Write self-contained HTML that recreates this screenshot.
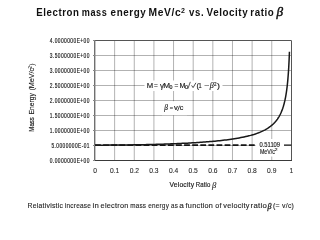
<!DOCTYPE html>
<html><head><meta charset="utf-8">
<style>
html,body{margin:0;padding:0;background:#fff;width:320px;height:240px;overflow:hidden;}
svg{display:block;filter:blur(0.35px);}
text{font-family:"Liberation Sans",sans-serif;}
.s{font-family:"Liberation Serif",serif;font-style:italic;}
</style></head>
<body>
<svg width="320" height="240" viewBox="0 0 320 240">
<rect width="320" height="240" fill="#fff"/>
<text x="36.36" y="15.8" font-size="10.6" textLength="43.07" lengthAdjust="spacingAndGlyphs" fill="#111" letter-spacing="0.6" font-weight="bold">Electron</text>
<text x="81.86" y="15.8" font-size="10.6" textLength="25.37" lengthAdjust="spacingAndGlyphs" fill="#111" letter-spacing="0.6" font-weight="bold">mass</text>
<text x="110.61" y="15.8" font-size="10.6" textLength="35.62" lengthAdjust="spacingAndGlyphs" fill="#111" letter-spacing="0.6" font-weight="bold">energy</text>
<text x="148.61" y="15.8" font-size="10.6" textLength="32.62" lengthAdjust="spacingAndGlyphs" fill="#111" letter-spacing="0.6" font-weight="bold">MeV/c</text>
<text x="189.11" y="15.8" font-size="10.6" textLength="15.02" lengthAdjust="spacingAndGlyphs" fill="#111" letter-spacing="0.6" font-weight="bold">vs.</text>
<text x="206.61" y="15.8" font-size="10.6" textLength="41.62" lengthAdjust="spacingAndGlyphs" fill="#111" letter-spacing="0.6" font-weight="bold">Velocity</text>
<text x="250.36" y="15.8" font-size="10.6" textLength="23.97" lengthAdjust="spacingAndGlyphs" fill="#111" letter-spacing="0.6" font-weight="bold">ratio</text>
<text x="180.9" y="12.6" font-size="7" font-weight="bold" fill="#111">2</text>
<text x="276.4" y="16.2" font-size="13.2" class="s" fill="#111" stroke="#111" stroke-width="0.45">β</text>
<g stroke="#000" stroke-opacity="0.3" stroke-width="1">
<line x1="114.64" y1="40.5" x2="114.64" y2="160.5"/>
<line x1="134.28" y1="40.5" x2="134.28" y2="160.5"/>
<line x1="153.92" y1="40.5" x2="153.92" y2="160.5"/>
<line x1="173.56" y1="40.5" x2="173.56" y2="160.5"/>
<line x1="193.20" y1="40.5" x2="193.20" y2="160.5"/>
<line x1="212.84" y1="40.5" x2="212.84" y2="160.5"/>
<line x1="232.48" y1="40.5" x2="232.48" y2="160.5"/>
<line x1="252.12" y1="40.5" x2="252.12" y2="160.5"/>
<line x1="271.76" y1="40.5" x2="271.76" y2="160.5"/>
<line x1="95.0" y1="145.50" x2="291.4" y2="145.50"/>
<line x1="95.0" y1="130.50" x2="291.4" y2="130.50"/>
<line x1="95.0" y1="115.50" x2="291.4" y2="115.50"/>
<line x1="95.0" y1="100.50" x2="291.4" y2="100.50"/>
<line x1="95.0" y1="85.50" x2="291.4" y2="85.50"/>
<line x1="95.0" y1="70.50" x2="291.4" y2="70.50"/>
<line x1="95.0" y1="55.50" x2="291.4" y2="55.50"/>
</g>
<line x1="95.0" y1="40.5" x2="291.4" y2="40.5" stroke="#555" stroke-width="1"/>
<line x1="291.5" y1="40.5" x2="291.5" y2="160.5" stroke="#555" stroke-width="1"/>
<line x1="94.7" y1="40.0" x2="94.7" y2="161.0" stroke="#707070" stroke-width="1.4"/>
<line x1="94.5" y1="160.5" x2="292" y2="160.5" stroke="#3a3a3a" stroke-width="1.1"/>
<g stroke="#888" stroke-width="1">
<line x1="93" y1="160.50" x2="95" y2="160.50"/>
<line x1="93" y1="145.50" x2="95" y2="145.50"/>
<line x1="93" y1="130.50" x2="95" y2="130.50"/>
<line x1="93" y1="115.50" x2="95" y2="115.50"/>
<line x1="93" y1="100.50" x2="95" y2="100.50"/>
<line x1="93" y1="85.50" x2="95" y2="85.50"/>
<line x1="93" y1="70.50" x2="95" y2="70.50"/>
<line x1="93" y1="55.50" x2="95" y2="55.50"/>
<line x1="93" y1="40.50" x2="95" y2="40.50"/>
</g>
<text x="89.9" y="162.70" font-size="6.5" text-anchor="end" textLength="40.20" letter-spacing="0.6" lengthAdjust="spacingAndGlyphs" fill="#222" stroke="#222" stroke-width="0.18">0.0000000E+00</text>
<text x="89.9" y="147.70" font-size="6.5" text-anchor="end" textLength="38.40" letter-spacing="0.6" lengthAdjust="spacingAndGlyphs" fill="#222" stroke="#222" stroke-width="0.18">5.0000000E-01</text>
<text x="89.9" y="132.70" font-size="6.5" text-anchor="end" textLength="40.20" letter-spacing="0.6" lengthAdjust="spacingAndGlyphs" fill="#222" stroke="#222" stroke-width="0.18">1.0000000E+00</text>
<text x="89.9" y="117.70" font-size="6.5" text-anchor="end" textLength="40.20" letter-spacing="0.6" lengthAdjust="spacingAndGlyphs" fill="#222" stroke="#222" stroke-width="0.18">1.5000000E+00</text>
<text x="89.9" y="102.70" font-size="6.5" text-anchor="end" textLength="40.20" letter-spacing="0.6" lengthAdjust="spacingAndGlyphs" fill="#222" stroke="#222" stroke-width="0.18">2.0000000E+00</text>
<text x="89.9" y="87.70" font-size="6.5" text-anchor="end" textLength="40.20" letter-spacing="0.6" lengthAdjust="spacingAndGlyphs" fill="#222" stroke="#222" stroke-width="0.18">2.5000000E+00</text>
<text x="89.9" y="72.70" font-size="6.5" text-anchor="end" textLength="40.20" letter-spacing="0.6" lengthAdjust="spacingAndGlyphs" fill="#222" stroke="#222" stroke-width="0.18">3.0000000E+00</text>
<text x="89.9" y="57.70" font-size="6.5" text-anchor="end" textLength="40.20" letter-spacing="0.6" lengthAdjust="spacingAndGlyphs" fill="#222" stroke="#222" stroke-width="0.18">3.5000000E+00</text>
<text x="89.9" y="42.70" font-size="6.5" text-anchor="end" textLength="40.20" letter-spacing="0.6" lengthAdjust="spacingAndGlyphs" fill="#222" stroke="#222" stroke-width="0.18">4.0000000E+00</text>
<text x="95.00" y="172.6" font-size="6.7" text-anchor="middle" fill="#2a2a2a" stroke="#2a2a2a" stroke-width="0.1">0</text>
<text x="114.64" y="172.6" font-size="6.7" text-anchor="middle" fill="#2a2a2a" stroke="#2a2a2a" stroke-width="0.1">0.1</text>
<text x="134.28" y="172.6" font-size="6.7" text-anchor="middle" fill="#2a2a2a" stroke="#2a2a2a" stroke-width="0.1">0.2</text>
<text x="153.92" y="172.6" font-size="6.7" text-anchor="middle" fill="#2a2a2a" stroke="#2a2a2a" stroke-width="0.1">0.3</text>
<text x="173.56" y="172.6" font-size="6.7" text-anchor="middle" fill="#2a2a2a" stroke="#2a2a2a" stroke-width="0.1">0.4</text>
<text x="193.20" y="172.6" font-size="6.7" text-anchor="middle" fill="#2a2a2a" stroke="#2a2a2a" stroke-width="0.1">0.5</text>
<text x="212.84" y="172.6" font-size="6.7" text-anchor="middle" fill="#2a2a2a" stroke="#2a2a2a" stroke-width="0.1">0.6</text>
<text x="232.48" y="172.6" font-size="6.7" text-anchor="middle" fill="#2a2a2a" stroke="#2a2a2a" stroke-width="0.1">0.7</text>
<text x="252.12" y="172.6" font-size="6.7" text-anchor="middle" fill="#2a2a2a" stroke="#2a2a2a" stroke-width="0.1">0.8</text>
<text x="271.76" y="172.6" font-size="6.7" text-anchor="middle" fill="#2a2a2a" stroke="#2a2a2a" stroke-width="0.1">0.9</text>
<text x="291.40" y="172.6" font-size="6.7" text-anchor="middle" fill="#2a2a2a" stroke="#2a2a2a" stroke-width="0.1">1</text>
<text x="169.48" y="187.4" font-size="7.0" textLength="24.74" lengthAdjust="spacingAndGlyphs" fill="#222" letter-spacing="0.2" stroke="#222" stroke-width="0.18">Velocity</text>
<text x="195.68" y="187.4" font-size="7.0" textLength="14.94" lengthAdjust="spacingAndGlyphs" fill="#222" letter-spacing="0.2" stroke="#222" stroke-width="0.18">Ratio</text>
<text x="212" y="187.8" font-size="8.6" class="s" fill="#222" stroke="#222" stroke-width="0.1">β</text>
<g transform="translate(34.4,0) rotate(-90)">
<text x="-131.70" y="0" font-size="7.2" textLength="14.60" lengthAdjust="spacingAndGlyphs" fill="#222" stroke="#222" stroke-width="0.15">Mass</text>
<text x="-114.40" y="0" font-size="7.2" textLength="21.30" lengthAdjust="spacingAndGlyphs" fill="#222" stroke="#222" stroke-width="0.15">Energy</text>
<text x="-90.60" y="0" font-size="7.2" textLength="22.70" lengthAdjust="spacingAndGlyphs" fill="#222" stroke="#222" stroke-width="0.15">(MeV/c</text>
<text x="-68.6" y="-2.8" font-size="4.6" fill="#222">2</text>
<text x="-65.8" y="0" font-size="7.2" fill="#222">)</text>
</g>
<line x1="95.0" y1="145.1" x2="255.6" y2="145.1" stroke="#151515" stroke-width="1.6" stroke-dasharray="5.8,2.3"/>
<line x1="284" y1="145.1" x2="291.4" y2="145.1" stroke="#222" stroke-width="1.3"/>
<path d="M95.00,145.17 L96.62,145.17 L98.24,145.17 L99.86,145.16 L101.48,145.16 L103.10,145.15 L104.72,145.15 L106.34,145.14 L107.96,145.13 L109.58,145.12 L111.20,145.11 L112.82,145.10 L114.44,145.09 L116.06,145.08 L117.68,145.06 L119.30,145.05 L120.92,145.03 L122.55,145.01 L124.17,145.00 L125.79,144.98 L127.41,144.95 L129.03,144.93 L130.65,144.91 L132.27,144.88 L133.89,144.86 L135.51,144.83 L137.13,144.80 L138.75,144.77 L140.37,144.74 L141.99,144.71 L143.61,144.67 L145.23,144.64 L146.85,144.60 L148.47,144.57 L150.09,144.53 L151.71,144.49 L153.33,144.44 L154.95,144.40 L156.57,144.35 L158.19,144.31 L159.81,144.26 L161.43,144.21 L163.05,144.15 L164.67,144.10 L166.29,144.04 L167.91,143.99 L169.53,143.93 L171.15,143.87 L172.77,143.80 L174.39,143.74 L176.01,143.67 L177.64,143.60 L179.26,143.53 L180.88,143.45 L182.50,143.37 L184.12,143.29 L185.74,143.21 L187.36,143.13 L188.98,143.04 L190.60,142.95 L192.22,142.85 L193.84,142.76 L195.46,142.66 L197.08,142.55 L198.70,142.45 L200.32,142.33 L201.94,142.22 L203.56,142.10 L205.18,141.98 L206.80,141.85 L208.42,141.72 L210.04,141.58 L211.66,141.44 L213.28,141.29 L214.90,141.14 L216.52,140.98 L218.14,140.82 L219.76,140.65 L221.38,140.47 L223.00,140.28 L224.62,140.09 L226.24,139.89 L227.86,139.68 L229.48,139.46 L231.11,139.23 L232.73,138.99 L234.35,138.74 L235.97,138.48 L237.59,138.20 L239.21,137.91 L240.83,137.61 L242.45,137.29 L244.07,136.95 L245.69,136.59 L247.31,136.21 L248.93,135.81 L250.55,135.39 L252.17,134.93 L253.79,134.45 L255.41,133.93 L257.03,133.37 L258.65,132.77 L260.27,132.12 L261.89,131.42 L263.51,130.65 L265.13,129.81 L266.75,128.89 L268.37,127.87 L269.99,126.73 L271.61,125.45 L271.76,125.32 L271.85,125.25 L271.94,125.17 L272.03,125.10 L272.12,125.02 L272.20,124.94 L272.29,124.86 L272.38,124.78 L272.47,124.70 L272.56,124.62 L272.65,124.54 L272.74,124.46 L272.83,124.38 L272.91,124.30 L273.00,124.22 L273.09,124.13 L273.18,124.05 L273.27,123.96 L273.36,123.88 L273.45,123.79 L273.54,123.70 L273.63,123.62 L273.71,123.53 L273.80,123.44 L273.89,123.35 L273.98,123.26 L274.07,123.17 L274.16,123.08 L274.25,122.99 L274.34,122.89 L274.42,122.80 L274.51,122.70 L274.60,122.61 L274.69,122.51 L274.78,122.42 L274.87,122.32 L274.96,122.22 L275.05,122.12 L275.14,122.02 L275.22,121.92 L275.31,121.82 L275.40,121.71 L275.49,121.61 L275.58,121.51 L275.67,121.40 L275.76,121.30 L275.85,121.19 L275.93,121.08 L276.02,120.97 L276.11,120.86 L276.20,120.75 L276.29,120.64 L276.38,120.52 L276.47,120.41 L276.56,120.30 L276.65,120.18 L276.73,120.06 L276.82,119.94 L276.91,119.82 L277.00,119.70 L277.09,119.58 L277.18,119.46 L277.27,119.34 L277.36,119.21 L277.44,119.08 L277.53,118.96 L277.62,118.83 L277.71,118.70 L277.80,118.57 L277.89,118.43 L277.98,118.30 L278.07,118.16 L278.16,118.03 L278.24,117.89 L278.33,117.75 L278.42,117.61 L278.51,117.47 L278.60,117.32 L278.69,117.18 L278.78,117.03 L278.87,116.88 L278.95,116.73 L279.04,116.58 L279.13,116.43 L279.22,116.27 L279.31,116.11 L279.40,115.95 L279.49,115.79 L279.58,115.63 L279.67,115.47 L279.75,115.30 L279.84,115.13 L279.93,114.96 L280.02,114.79 L280.11,114.62 L280.20,114.44 L280.29,114.26 L280.38,114.08 L280.46,113.90 L280.55,113.71 L280.64,113.53 L280.73,113.34 L280.82,113.15 L280.91,112.95 L281.00,112.75 L281.09,112.55 L281.18,112.35 L281.26,112.15 L281.35,111.94 L281.44,111.73 L281.53,111.52 L281.62,111.30 L281.71,111.08 L281.80,110.86 L281.89,110.63 L281.97,110.40 L282.06,110.17 L282.15,109.94 L282.24,109.70 L282.33,109.46 L282.42,109.21 L282.51,108.96 L282.60,108.71 L282.69,108.45 L282.77,108.19 L282.86,107.92 L282.95,107.65 L283.04,107.38 L283.13,107.10 L283.22,106.82 L283.31,106.53 L283.40,106.24 L283.48,105.94 L283.57,105.64 L283.66,105.33 L283.75,105.02 L283.84,104.70 L283.93,104.38 L284.02,104.05 L284.11,103.71 L284.20,103.37 L284.28,103.02 L284.37,102.66 L284.46,102.30 L284.55,101.93 L284.64,101.55 L284.73,101.17 L284.82,100.78 L284.91,100.38 L284.99,99.97 L285.08,99.55 L285.17,99.13 L285.26,98.69 L285.35,98.25 L285.44,97.79 L285.53,97.33 L285.62,96.85 L285.71,96.36 L285.79,95.86 L285.88,95.35 L285.97,94.83 L286.06,94.29 L286.15,93.74 L286.24,93.18 L286.33,92.60 L286.42,92.01 L286.50,91.39 L286.59,90.77 L286.68,90.12 L286.77,89.46 L286.86,88.77 L286.95,88.07 L287.04,87.34 L287.13,86.60 L287.22,85.83 L287.30,85.03 L287.39,84.21 L287.48,83.35 L287.57,82.47 L287.66,81.56 L287.75,80.62 L287.84,79.64 L287.93,78.62 L288.01,77.56 L288.10,76.46 L288.19,75.31 L288.28,74.12 L288.37,72.87 L288.46,71.57 L288.55,70.20 L288.64,68.78 L288.73,67.28 L288.81,65.70 L288.90,64.04 L288.99,62.29 L289.08,60.44 L289.17,58.47 L289.26,56.39 L289.35,54.17 L289.44,51.81" fill="none" stroke="#181818" stroke-width="1.5" stroke-linejoin="round"/>
<rect x="144.5" y="80.5" width="78" height="10.5" fill="#fff"/>
<text x="146.89" y="87.6" font-size="6.8" textLength="6.42" lengthAdjust="spacingAndGlyphs" fill="#222" stroke="#222" stroke-width="0.15">M</text>
<text x="153.89" y="87.6" font-size="6.8" textLength="3.82" lengthAdjust="spacingAndGlyphs" fill="#222" stroke="#222" stroke-width="0.15">=</text>
<text x="160.09" y="87.6" font-size="6.8" textLength="3.92" lengthAdjust="spacingAndGlyphs" fill="#222" stroke="#222" stroke-width="0.15">γ</text>
<text x="163.19" y="87.6" font-size="6.8" textLength="6.82" lengthAdjust="spacingAndGlyphs" fill="#222" stroke="#222" stroke-width="0.15">M</text>
<text x="169.62" y="88.9" font-size="4.6" textLength="2.95" lengthAdjust="spacingAndGlyphs" fill="#222" stroke="#222" stroke-width="0.15">0</text>
<text x="174.49" y="87.6" font-size="6.8" textLength="3.82" lengthAdjust="spacingAndGlyphs" fill="#222" stroke="#222" stroke-width="0.15">=</text>
<text x="179.49" y="87.6" font-size="6.8" textLength="5.92" lengthAdjust="spacingAndGlyphs" fill="#222" stroke="#222" stroke-width="0.15">M</text>
<text x="184.92" y="88.9" font-size="4.6" textLength="2.95" lengthAdjust="spacingAndGlyphs" fill="#222" stroke="#222" stroke-width="0.15">0</text>
<path d="M187.9,88.7 L190.3,81.9" stroke="#222" stroke-width="0.75"/>
<path d="M191.6,85.4 L193.1,87.6 L195.9,82.8" fill="none" stroke="#222" stroke-width="0.8"/>
<text x="196.49" y="87.6" font-size="6.8" textLength="2.52" lengthAdjust="spacingAndGlyphs" fill="#222" stroke="#222" stroke-width="0.15">(</text>
<text x="198.49" y="87.6" font-size="6.8" textLength="3.12" lengthAdjust="spacingAndGlyphs" fill="#222" stroke="#222" stroke-width="0.15">1</text>
<text x="204.59" y="87.6" font-size="6.8" textLength="5.12" lengthAdjust="spacingAndGlyphs" fill="#222" stroke="#222" stroke-width="0.15">−</text>
<text x="209.8" y="87.6" font-size="8" class="s" fill="#222" stroke="#222" stroke-width="0.15">β</text>
<text x="214.02" y="85.6" font-size="4.6" textLength="2.55" lengthAdjust="spacingAndGlyphs" fill="#222" stroke="#222" stroke-width="0.15">2</text>
<text x="217.09" y="87.6" font-size="6.8" textLength="2.92" lengthAdjust="spacingAndGlyphs" fill="#222" stroke="#222" stroke-width="0.15">)</text>
<rect x="162" y="101.2" width="25" height="14" fill="#fff"/>
<text x="164.2" y="110.3" font-size="7.4" class="s" fill="#222" stroke="#222" stroke-width="0.15">β</text>
<text x="169.65" y="109.8" font-size="5.8" textLength="3.30" lengthAdjust="spacingAndGlyphs" fill="#222" stroke="#222" stroke-width="0.15">=</text>
<text x="174.00" y="110.2" font-size="6.6" textLength="3.79" lengthAdjust="spacingAndGlyphs" fill="#222" stroke="#222" stroke-width="0.15">v</text>
<path d="M177.5,111.0 L179.7,105.6" stroke="#222" stroke-width="0.8"/>
<text x="179.70" y="110.2" font-size="6.6" textLength="3.59" lengthAdjust="spacingAndGlyphs" fill="#222" stroke="#222" stroke-width="0.15">c</text>
<rect x="255.6" y="139" width="28.4" height="17.5" fill="#fff"/>
<text x="259.51" y="146.8" font-size="6.5" textLength="20.58" lengthAdjust="spacingAndGlyphs" fill="#222" stroke="#222" stroke-width="0.15">0.51109</text>
<text x="259.91" y="153.6" font-size="6.5" textLength="15.08" lengthAdjust="spacingAndGlyphs" fill="#222" stroke="#222" stroke-width="0.15">MeV/c</text>
<text x="274.64" y="151.0" font-size="4.4" textLength="3.03" lengthAdjust="spacingAndGlyphs" fill="#222" stroke="#222" stroke-width="0.15">2</text>
<text x="27.58" y="208.2" font-size="7.0" textLength="35.59" lengthAdjust="spacingAndGlyphs" fill="#262626" letter-spacing="0.25" stroke="#262626" stroke-width="0.12">Relativistic</text>
<text x="64.78" y="208.2" font-size="7.0" textLength="26.39" lengthAdjust="spacingAndGlyphs" fill="#262626" letter-spacing="0.25" stroke="#262626" stroke-width="0.12">increase</text>
<text x="92.58" y="208.2" font-size="7.0" textLength="6.59" lengthAdjust="spacingAndGlyphs" fill="#262626" letter-spacing="0.25" stroke="#262626" stroke-width="0.12">in</text>
<text x="100.58" y="208.2" font-size="7.0" textLength="28.09" lengthAdjust="spacingAndGlyphs" fill="#262626" letter-spacing="0.25" stroke="#262626" stroke-width="0.12">electron</text>
<text x="130.18" y="208.2" font-size="7.0" textLength="16.09" lengthAdjust="spacingAndGlyphs" fill="#262626" letter-spacing="0.25" stroke="#262626" stroke-width="0.12">mass</text>
<text x="148.18" y="208.2" font-size="7.0" textLength="20.89" lengthAdjust="spacingAndGlyphs" fill="#262626" letter-spacing="0.25" stroke="#262626" stroke-width="0.12">energy</text>
<text x="171.08" y="208.2" font-size="7.0" textLength="7.09" lengthAdjust="spacingAndGlyphs" fill="#262626" letter-spacing="0.25" stroke="#262626" stroke-width="0.12">as</text>
<text x="179.28" y="208.2" font-size="7.0" textLength="4.89" lengthAdjust="spacingAndGlyphs" fill="#262626" letter-spacing="0.25" stroke="#262626" stroke-width="0.12">a</text>
<text x="185.58" y="208.2" font-size="7.0" textLength="27.59" lengthAdjust="spacingAndGlyphs" fill="#262626" letter-spacing="0.25" stroke="#262626" stroke-width="0.12">function</text>
<text x="215.38" y="208.2" font-size="7.0" textLength="6.49" lengthAdjust="spacingAndGlyphs" fill="#262626" letter-spacing="0.25" stroke="#262626" stroke-width="0.12">of</text>
<text x="223.38" y="208.2" font-size="7.0" textLength="26.29" lengthAdjust="spacingAndGlyphs" fill="#262626" letter-spacing="0.25" stroke="#262626" stroke-width="0.12">velocity</text>
<text x="250.58" y="208.2" font-size="7.0" textLength="16.59" lengthAdjust="spacingAndGlyphs" fill="#262626" letter-spacing="0.25" stroke="#262626" stroke-width="0.12">ratio</text>
<text x="273.08" y="208.2" font-size="7.0" textLength="21.09" lengthAdjust="spacingAndGlyphs" fill="#262626" letter-spacing="0.25" stroke="#262626" stroke-width="0.12">(= v/c)</text>
<text x="267.4" y="208.8" font-size="8" class="s" fill="#262626" stroke="#262626" stroke-width="0.3">β</text>
</svg>
</body></html>
